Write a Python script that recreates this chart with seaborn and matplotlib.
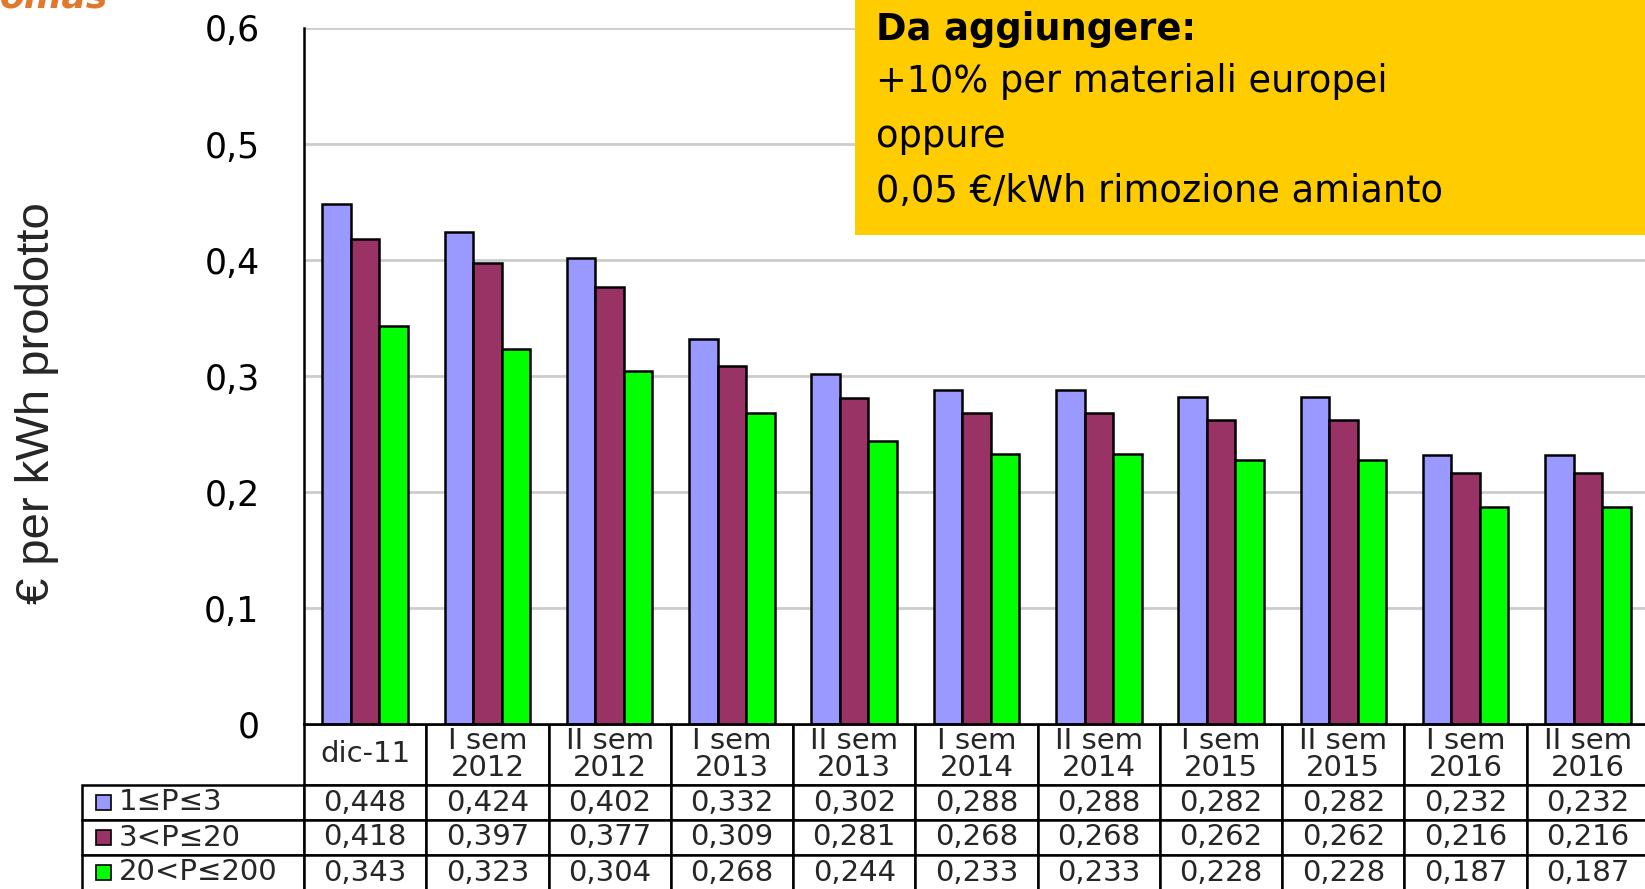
import numpy as np
import pandas as pd
import seaborn as sns
import matplotlib.pyplot as plt
from matplotlib.patches import Rectangle
from matplotlib.table import Table
from matplotlib.ticker import FuncFormatter

# dati
periodi = ['dic-11', 'I sem\n2012', 'II sem\n2012', 'I sem\n2013', 'II sem\n2013',
           'I sem\n2014', 'II sem\n2014', 'I sem\n2015', 'II sem\n2015',
           'I sem\n2016', 'II sem\n2016']
classi = ['1≤P≤3', '3<P≤20', '20<P≤200']
p_1_3 = [0.448, 0.424, 0.402, 0.332, 0.302, 0.288, 0.288, 0.282, 0.282, 0.232, 0.232]
p_3_20 = [0.418, 0.397, 0.377, 0.309, 0.281, 0.268, 0.268, 0.262, 0.262, 0.216, 0.216]
p_20_200 = [0.343, 0.323, 0.304, 0.268, 0.244, 0.233, 0.233, 0.228, 0.228, 0.187, 0.187]
colori = ['#9999FF', '#993366', '#00FF00']
serie = [p_1_3, p_3_20, p_20_200]

df = pd.DataFrame({
    'periodo': periodi * 3,
    'classe': [c for c in classi for _ in periodi],
    'valore': p_1_3 + p_3_20 + p_20_200,
})

sns.set_style('white')
plt.rcParams['font.family'] = ['DejaVu Sans']

W, H = 1645, 889
fig = plt.figure(figsize=(W / 100, H / 100), dpi=100)

# axes in pixel (dall'alto): sinistra 304, top 28, fondo 724, larghezza 11 colonne
ax_l, ax_t, ax_b, ax_w = 304, 28, 724, 1345
ax_h = ax_b - ax_t
ax = fig.add_axes([ax_l / W, (H - ax_b) / H, ax_w / W, ax_h / H])

sns.barplot(data=df, x='periodo', y='valore', hue='classe', order=periodi,
            hue_order=classi, palette=colori, width=0.7, saturation=1,
            edgecolor='black', linewidth=1.8, legend=False, ax=ax)

ax.set_xlim(-0.5, len(periodi) - 0.5)
ax.set_ylim(0, 0.6)
ax.set_yticks(np.arange(0, 0.61, 0.1))
ax.yaxis.set_major_formatter(FuncFormatter(
    lambda v, p: '0' if abs(v) < 1e-9 else f'{v:.1f}'.replace('.', ',')))
ax.set_xticks([])
ax.set_xlabel('')
ax.set_ylabel('')
ax.tick_params(axis='y', length=12, width=1.8, pad=20, labelsize=25, colors='black')
ax.yaxis.grid(True, color='#cccccc', linewidth=2)
ax.set_axisbelow(True)
for s in ['top', 'right']:
    ax.spines[s].set_visible(False)
for s in ['left', 'bottom']:
    ax.spines[s].set_color('black')
    ax.spines[s].set_linewidth(1.8)

# tabella sotto il grafico (la colonna etichette resta fuori dal bbox, a sinistra)
label_w = 222 / ax_w
col_w = 1 / len(periodi)
header_h = 61 / ax_h
row_h = 35 / ax_h
tot_h = header_h + 3 * row_h
tab = Table(ax, bbox=[0, -tot_h, 1, tot_h])
for j, p in enumerate(periodi):
    c = tab.add_cell(0, j, col_w, header_h, text=p, loc='center')
    c.get_text().set_linespacing(0.95)
for i, (cl, vals) in enumerate(zip(classi, serie)):
    c = tab.add_cell(i + 1, -1, label_w, row_h, text=cl, loc='left')
    c.PAD = 0.165
    for j, v in enumerate(vals):
        tab.add_cell(i + 1, j, col_w, row_h, text=f'{v:.3f}'.replace('.', ','), loc='center')
tab.auto_set_font_size(False)
tab.set_fontsize(21)
for cell in tab.get_celld().values():
    cell.set_linewidth(1.8)
    cell.set_edgecolor('black')
ax.add_table(tab)

# quadratini legenda
sq = 15
for i, col in enumerate(colori):
    yc = -(header_h + (i + 0.5) * row_h)
    ax.add_patch(Rectangle(((96 - ax_l) / ax_w, yc - sq / ax_h / 2), sq / ax_w, sq / ax_h,
                           transform=ax.transAxes, facecolor=col, edgecolor='black',
                           linewidth=1.2, clip_on=False, zorder=5))

# etichetta asse y
fig.text(37 / W, (H - 403) / H, '€ per kWh prodotto', rotation=90, ha='center',
         va='center', fontsize=34, family=['Liberation Sans', 'DejaVu Sans'])

# riquadro giallo
fig.add_artist(Rectangle((855 / W, (H - 235) / H), 1 - 855 / W, 235 / H,
                         transform=fig.transFigure, facecolor='#FFCC00',
                         edgecolor='none', zorder=5))
righe = ['Da aggiungere:', '+10% per materiali europei', 'oppure',
         '0,05 €/kWh rimozione amianto']
basi = [40, 92, 147, 202]
for k, (t, b) in enumerate(zip(righe, basi)):
    fig.text(876 / W, (H - b) / H, t, ha='left', va='baseline', fontsize=26.5,
             fontweight='bold' if k == 0 else 'normal', color='black', zorder=6)

# logo tagliato in alto a sinistra
fig.text(0.0, 1 - 7 / H, 'omas', color='#E0782E', fontsize=26, fontstyle='italic',
         fontweight='bold', ha='left', va='baseline')

fig.savefig('out.png', dpi=100)
